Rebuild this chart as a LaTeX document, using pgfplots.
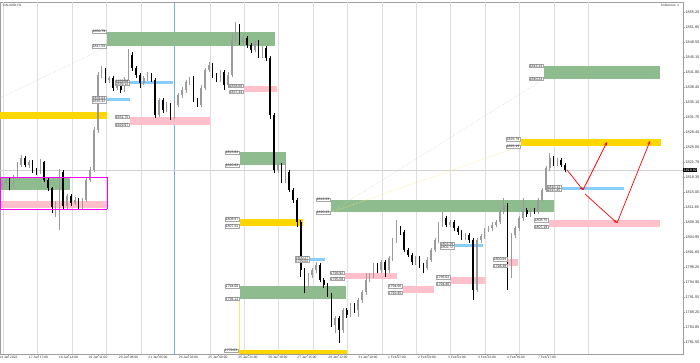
\documentclass[border=0pt]{standalone}
\usepackage{fontspec}
\setmainfont{Liberation Sans}
\usepackage{pgfplots}
\usepackage{pgfplotstable}
\pgfplotsset{compat=1.18}
\usetikzlibrary{arrows.meta}
\definecolor{zgreen}{RGB}{143,188,143}
\definecolor{zyellow}{RGB}{255,215,0}
\definecolor{zpink}{RGB}{255,192,203}
\definecolor{zblue}{RGB}{135,206,250}
\definecolor{zmag}{RGB}{255,0,255}
\definecolor{bullc}{RGB}{155,155,155}
\definecolor{gridc}{RGB}{222,222,222}
\definecolor{vblue}{RGB}{120,170,225}
\tikzset{lbl/.style={draw=gray!70, fill=white, line width=0.3pt, font=\fontsize{3.5}{3.8}\selectfont, inner xsep=0.5pt, inner ysep=0.4pt, anchor=east, text=black!85}}

\pgfplotstableread{
i o h l c
0 1816.35 1817.69 1815.45 1817.02
1 1817.02 1818.13 1816.60 1817.69
2 1817.69 1818.30 1815.45 1816.35
3 1816.35 1818.80 1815.90 1818.13
4 1818.13 1821.70 1817.70 1821.04
5 1821.04 1823.27 1820.60 1822.60
6 1822.60 1823.00 1820.50 1821.04
7 1821.04 1822.20 1820.40 1821.71
8 1821.71 1822.10 1819.30 1819.92
9 1819.92 1820.40 1818.80 1819.47
10 1819.47 1822.37 1819.00 1821.71
11 1821.71 1822.00 1817.20 1817.69
12 1817.69 1818.10 1815.30 1815.90
13 1815.90 1816.20 1810.32 1811.66
14 1811.66 1813.00 1809.42 1812.55
15 1812.55 1820.14 1806.52 1819.47
16 1819.47 1819.92 1811.20 1811.88
17 1811.88 1814.60 1811.30 1814.11
18 1814.11 1814.60 1811.90 1812.55
19 1812.55 1813.80 1812.00 1813.22
20 1813.22 1813.60 1810.99 1811.66
21 1811.66 1813.70 1811.10 1813.22
22 1813.22 1818.30 1812.80 1817.69
23 1817.69 1820.60 1817.20 1819.92
24 1819.92 1829.50 1819.50 1828.85
25 1828.85 1841.80 1828.20 1841.13
26 1841.13 1843.14 1840.50 1842.25
27 1842.25 1842.70 1839.40 1840.02
28 1840.02 1841.00 1839.40 1840.46
29 1840.46 1840.90 1837.60 1838.23
30 1838.23 1840.10 1837.70 1839.57
31 1839.57 1840.00 1837.11 1837.78
32 1837.78 1840.60 1837.30 1840.02
33 1840.02 1846.94 1839.50 1845.60
34 1845.60 1846.20 1842.10 1842.70
35 1842.70 1843.20 1840.50 1841.13
36 1841.13 1841.60 1838.23 1839.35
37 1839.35 1840.90 1838.80 1840.46
38 1840.46 1841.80 1839.90 1841.13
39 1841.13 1841.60 1839.50 1840.02
40 1840.02 1840.50 1831.53 1832.20
41 1832.20 1836.10 1831.70 1835.55
42 1835.55 1836.00 1832.70 1833.32
43 1833.32 1835.00 1832.80 1834.43
44 1834.43 1834.90 1831.08 1831.75
45 1831.75 1835.00 1831.30 1834.43
46 1834.43 1837.20 1833.90 1836.67
47 1836.67 1838.40 1836.10 1837.78
48 1837.78 1840.10 1837.20 1839.57
49 1839.57 1840.69 1839.00 1840.46
50 1840.46 1840.90 1835.00 1835.55
51 1835.55 1836.10 1833.99 1834.43
52 1834.43 1838.80 1833.90 1838.23
53 1838.23 1842.80 1837.70 1842.25
54 1842.25 1844.04 1841.70 1843.37
55 1843.37 1843.80 1840.50 1841.13
56 1841.13 1841.60 1839.50 1840.02
57 1840.02 1842.30 1839.50 1841.80
58 1841.80 1842.20 1837.78 1838.90
59 1838.90 1841.70 1838.30 1841.13
60 1841.13 1850.51 1840.60 1848.95
61 1848.95 1852.97 1848.40 1851.18
62 1851.18 1852.50 1847.90 1848.50
63 1848.50 1849.90 1847.90 1849.39
64 1849.39 1849.90 1847.16 1847.83
65 1847.83 1848.30 1846.10 1846.72
66 1846.72 1849.00 1846.20 1848.50
67 1848.50 1849.00 1845.00 1845.60
68 1845.60 1847.70 1845.00 1847.16
69 1847.16 1847.60 1844.30 1844.93
70 1844.93 1845.40 1831.30 1832.20
71 1832.20 1832.60 1819.25 1819.92
72 1819.92 1821.60 1819.30 1821.04
73 1821.04 1821.50 1817.10 1817.69
74 1817.69 1821.71 1817.10 1819.47
75 1819.47 1819.90 1814.90 1815.45
76 1815.45 1815.90 1812.60 1813.22
77 1813.22 1813.70 1807.19 1808.31
78 1808.31 1808.80 1796.02 1797.59
79 1797.59 1798.00 1792.45 1794.24
80 1794.24 1797.00 1793.70 1796.47
81 1796.47 1798.10 1795.90 1797.59
82 1797.59 1799.37 1797.00 1798.71
83 1798.71 1799.20 1794.80 1795.36
84 1795.36 1795.90 1793.60 1794.24
85 1794.24 1794.70 1791.56 1792.01
86 1792.01 1792.50 1784.86 1785.31
87 1785.31 1787.40 1783.52 1786.87
88 1786.87 1787.30 1781.29 1784.19
89 1784.19 1789.20 1783.60 1788.66
90 1788.66 1789.10 1786.90 1787.54
91 1787.54 1790.30 1787.00 1789.77
92 1789.77 1790.30 1788.00 1788.66
93 1788.66 1791.40 1787.09 1790.89
94 1790.89 1793.20 1790.30 1792.68
95 1792.68 1796.92 1792.10 1795.36
96 1795.36 1797.00 1794.80 1796.47
97 1796.47 1799.20 1795.90 1798.71
98 1798.71 1799.20 1797.00 1797.59
99 1797.59 1799.82 1797.00 1799.37
100 1799.37 1799.90 1796.02 1797.59
101 1797.59 1800.80 1797.00 1800.27
102 1800.27 1804.80 1799.70 1804.29
103 1804.29 1808.75 1803.70 1806.97
104 1806.97 1807.50 1805.50 1806.07
105 1806.07 1806.50 1801.50 1802.06
106 1802.06 1802.60 1800.40 1800.94
107 1800.94 1801.40 1798.80 1799.37
108 1799.37 1800.80 1798.80 1800.27
109 1800.27 1800.70 1798.10 1798.71
110 1798.71 1799.20 1796.92 1798.04
111 1798.04 1800.40 1797.50 1799.82
112 1799.82 1802.60 1799.30 1802.06
113 1802.06 1804.80 1801.50 1804.29
114 1804.29 1808.20 1803.70 1807.64
115 1807.64 1810.54 1807.10 1809.20
116 1809.20 1809.70 1807.10 1807.64
117 1807.64 1808.80 1807.10 1808.31
118 1808.31 1808.80 1806.40 1806.97
119 1806.97 1807.50 1805.50 1806.07
120 1806.07 1806.50 1804.20 1804.73
121 1804.73 1805.90 1804.20 1805.40
122 1805.40 1805.90 1803.62 1804.29
123 1804.29 1804.80 1790.89 1793.12
124 1793.12 1804.80 1792.60 1804.29
125 1804.29 1805.70 1803.70 1805.18
126 1805.18 1807.00 1804.60 1806.52
127 1806.52 1807.50 1806.00 1806.97
128 1806.97 1808.20 1806.40 1807.64
129 1807.64 1808.80 1807.10 1808.31
130 1808.31 1811.10 1807.80 1810.54
131 1810.54 1813.67 1810.00 1812.10
132 1812.10 1812.60 1793.12 1796.47
133 1796.47 1805.90 1795.90 1805.40
134 1805.40 1807.50 1804.80 1806.97
135 1806.97 1809.70 1806.40 1809.20
136 1809.20 1813.67 1808.60 1810.99
137 1810.99 1811.50 1809.50 1810.09
138 1810.09 1811.50 1809.50 1810.99
139 1810.99 1811.50 1810.00 1810.54
140 1810.54 1813.70 1810.00 1813.22
141 1813.22 1815.90 1812.70 1815.45
142 1815.45 1820.90 1814.90 1820.37
143 1820.37 1823.72 1819.80 1822.60
144 1822.60 1823.10 1820.90 1821.48
145 1821.48 1822.70 1820.90 1822.15
146 1822.15 1822.60 1820.50 1821.04
147 1821.04 1821.50 1819.40 1819.92
}\candles

\newcommand{\zone}[5]{\addplot[fill=#5, draw=none] coordinates {(#1,#3) (#2,#3) (#2,#4) (#1,#4)};}
\newcommand{\labs}[3]{\node[lbl] at (axis cs:#1,#2) {#2};\node[lbl] at (axis cs:#1,#3) {#3};}

\begin{document}
\begin{tikzpicture}
\begin{axis}[
  at={(0pt,8pt)}, anchor=south west,
  width=683pt, height=352pt, scale only axis,
  xmin=0, xmax=683, ymin=1778.83, ymax=1857.43,
  clip=false,
  axis line style={draw=gray!75, line width=0.5pt},
  tick align=outside, major tick length=1.8pt,
  tick style={draw=gray!75, line width=0.4pt},
  ytick pos=right, xtick pos=left,
  scaled y ticks=false,
  ytick={1781.50,1784.85,1788.20,1791.55,1794.90,1798.25,1801.60,1804.95,1808.30,1811.65,1815.00,1818.35,1821.70,1825.05,1828.40,1831.75,1835.10,1838.45,1841.80,1845.15,1848.50,1851.85,1855.20},
  yticklabel style={font=\fontsize{3.8}{4}\selectfont, inner sep=0.6pt, text=black!80,
    /pgf/number format/.cd, fixed, fixed zerofill, precision=2, 1000 sep={}, assume math mode=true},
  xtick={8.5,38.5,68.5,98,128.5,158,188.5,218,248,278,307,338,368,397,427,457,487,516,547},
  xticklabels={14 Jan 2022,17 Jan 17:00,18 Jan 14:00,19 Jan 11:00,20 Jan 08:00,21 Jan 05:00,24 Jan 03:00,25 Jan 00:00,25 Jan 21:00,26 Jan 18:00,27 Jan 15:00,28 Jan 12:00,31 Jan 10:00,1 Feb 07:00,2 Feb 04:00,3 Feb 01:00,3 Feb 22:00,4 Feb 19:00,7 Feb 17:00},
  xticklabel style={font=\fontsize{3.3}{3.5}\selectfont, inner sep=0.6pt, text=black!80},
  extra x ticks={3.3,37.7,72.1,106.5,140.9,209.8,244.2,278.6,313.0,347.4,381.8,416.2,450.6,485.0,519.4,553.9,588.3},
  extra x tick labels={},
  extra x tick style={grid=major, major grid style={draw=gridc, line width=0.6pt}, major tick length=0pt},
]
% vertical blue separator and price line
\addplot[vblue, line width=0.6pt] coordinates {(174,1778.83) (174,1857.43)};
\addplot[gray!35, line width=0.4pt] coordinates {(0,1819.92) (683,1819.92)};
\addplot[zyellow!60, line width=0.3pt] coordinates {(239,1791.11) (239,1779.63)};

% zones
\zone{107}{275}{1850.79}{1847.59}{zgreen}
\zone{0}{107}{1832.87}{1831.31}{zyellow}
\zone{107}{130}{1836.04}{1835.32}{zblue}
\zone{130}{173}{1839.68}{1839.12}{zblue}
\zone{130}{210}{1831.75}{1829.97}{zpink}
\zone{244}{277}{1838.68}{1837.34}{zpink}
\zone{0}{107}{1813.00}{1811.43}{zpink}
\zone{0}{70}{1818.13}{1815.45}{zgreen}
\zone{240}{286}{1823.83}{1820.93}{zgreen}
\zone{240}{303}{1808.97}{1807.41}{zyellow}
\zone{310}{325}{1800.27}{1799.60}{zblue}
\zone{240}{346}{1794.00}{1791.11}{zgreen}
\zone{239}{347}{1779.63}{1778.90}{zyellow}
\zone{331}{554}{1813.33}{1810.43}{zgreen}
\zone{345}{397}{1796.92}{1795.58}{zpink}
\zone{403}{434}{1794.00}{1792.45}{zpink}
\zone{451}{485}{1796.02}{1794.46}{zpink}
\zone{508}{518}{1800.04}{1798.48}{zpink}
\zone{549}{660}{1808.75}{1807.19}{zpink}
\zone{455}{483}{1803.39}{1802.72}{zblue}
\zone{562}{624}{1816.12}{1815.45}{zblue}
\zone{521}{661}{1826.79}{1825.19}{zyellow}
\zone{544}{660}{1843.14}{1840.24}{zgreen}

% faint connector lines
\addplot[green!35!gray!45, densely dotted, line width=0.4pt] coordinates {(0,1835.99) (107,1847.39)};
\addplot[green!35!gray!45, densely dotted, line width=0.4pt] coordinates {(331,1810.54) (544,1840.24)};
\addplot[zyellow!55, densely dotted, line width=0.5pt] coordinates {(332,1810.54) (521,1825.28)};

% candles: wicks and bodies
\addplot[bullc, line width=0.5pt, quiver={u=0, v=\thisrow{h}-\thisrow{l}}, restrict expr to domain={\thisrow{c}-\thisrow{o}}{0:1000}] table[x expr=2+3.83*\thisrow{i}, y=l] {\candles};
\addplot[black, line width=0.5pt, quiver={u=0, v=\thisrow{h}-\thisrow{l}}, restrict expr to domain={\thisrow{c}-\thisrow{o}}{-1000:0}] table[x expr=2+3.83*\thisrow{i}, y=l] {\candles};
\addplot[bullc, line width=1.6pt, quiver={u=0, v=\thisrow{c}-\thisrow{o}}, restrict expr to domain={\thisrow{c}-\thisrow{o}}{0:1000}] table[x expr=2+3.83*\thisrow{i}, y=o] {\candles};
\addplot[black, line width=1.6pt, quiver={u=0, v=\thisrow{c}-\thisrow{o}}, restrict expr to domain={\thisrow{c}-\thisrow{o}}{-1000:0}] table[x expr=2+3.83*\thisrow{i}, y=o] {\candles};

% magenta frame round the left zones (four thin filled strips)
\zone{0}{107.4}{1818.44}{1818.26}{zmag}
\zone{0}{107.4}{1811.30}{1811.12}{zmag}
\zone{0}{0.8}{1818.44}{1811.12}{zmag}
\zone{106.6}{107.4}{1818.44}{1811.12}{zmag}

% red projection arrows
\addplot[red, line width=0.7pt, -{Stealth[length=3.5pt,width=2.8pt]}] coordinates {(567,1819.92) (583,1815.45)};
\addplot[red, line width=0.7pt, -{Stealth[length=3.5pt,width=2.8pt]}] coordinates {(583,1815.45) (607,1826.17)};
\addplot[red, line width=0.7pt, -{Stealth[length=3.5pt,width=2.8pt]}] coordinates {(585,1814.56) (617,1808.08)};
\addplot[red, line width=0.7pt, -{Stealth[length=3.5pt,width=2.8pt]}] coordinates {(617,1808.08) (650,1826.39)};

% zone labels
\labs{106}{1850.79}{1847.59}
\labs{106}{1836.04}{1835.32}
\labs{129}{1839.68}{1839.12}
\labs{129}{1831.75}{1829.97}
\labs{243}{1838.68}{1837.34}
\labs{239}{1823.83}{1820.93}
\labs{239}{1808.97}{1807.41}
\labs{309}{1800.27}{1799.60}
\labs{239}{1794.00}{1791.11}
\node[lbl] at (axis cs:238,1779.63) {1779.63};
\labs{330}{1813.33}{1810.43}
\labs{344}{1796.92}{1795.58}
\labs{402}{1794.00}{1792.45}
\labs{450}{1796.02}{1794.46}
\labs{507}{1800.04}{1798.48}
\labs{548}{1808.75}{1807.19}
\labs{454}{1803.39}{1802.72}
\labs{561}{1816.12}{1815.45}
\labs{520}{1826.79}{1825.19}
\labs{543}{1843.14}{1840.24}

% header texts and current price
\node[anchor=west, font=\fontsize{3.2}{3.4}\selectfont, text=black!80, inner sep=0pt] at (axis cs:3,1856.6) {XAUUSD,H1};
\node[anchor=east, font=\fontsize{3.2}{3.4}\selectfont, text=black!80, inner sep=0pt] at (axis cs:680,1856.6) {SnDzones ☺};
\node[anchor=west, fill=black, text=white, font=\fontsize{3.6}{3.8}\selectfont, inner xsep=0.6pt, inner ysep=0.5pt] at (axis cs:683,1819.92) {1819.92};
\end{axis}
\pgfresetboundingbox
\path (0pt,0pt) rectangle (700pt,362pt);
\end{tikzpicture}
\end{document}
